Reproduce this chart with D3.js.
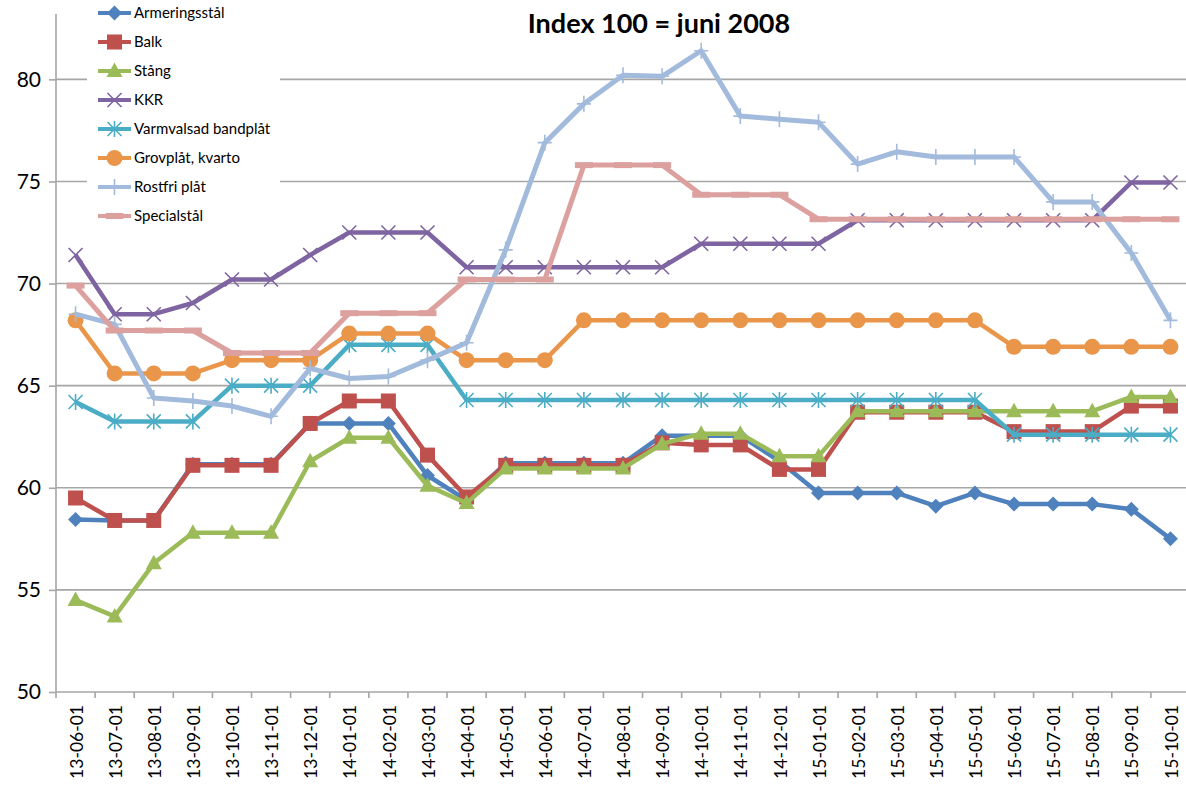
<!DOCTYPE html>
<html>
<head>
<meta charset="utf-8">
<script src="https://cdn.jsdelivr.net/npm/d3@7"></script>
<style>
  body { margin: 0; background: #fff; }
  #chart { width: 1186px; height: 803px; }
</style>
</head>
<body>
<div id="chart"></div>
<script>
// 日期类别
const dates = ["13-06-01","13-07-01","13-08-01","13-09-01","13-10-01","13-11-01","13-12-01",
  "14-01-01","14-02-01","14-03-01","14-04-01","14-05-01","14-06-01","14-07-01","14-08-01",
  "14-09-01","14-10-01","14-11-01","14-12-01","15-01-01","15-02-01","15-03-01","15-04-01",
  "15-05-01","15-06-01","15-07-01","15-08-01","15-09-01","15-10-01"];

// 各系列数值
const armering = [58.45,58.4,58.4,61.15,61.15,61.15,63.15,63.15,63.15,60.6,59.4,61.2,61.2,61.2,61.2,
  62.55,62.55,62.55,61.3,59.75,59.75,59.75,59.1,59.75,59.2,59.2,59.2,58.95,57.5];
const balk = [59.5,58.4,58.4,61.1,61.1,61.1,63.15,64.25,64.25,61.6,59.55,61.1,61.1,61.1,61.1,
  62.2,62.1,62.1,60.9,60.9,63.7,63.7,63.7,63.7,62.75,62.75,62.75,64.0,64.0];
const stang = [54.5,53.7,56.3,57.8,57.8,57.8,61.3,62.45,62.45,60.1,59.25,60.95,60.95,60.95,60.95,
  62.15,62.65,62.65,61.55,61.55,63.75,63.75,63.75,63.75,63.75,63.75,63.75,64.45,64.45];
const kkr = [71.4,68.5,68.5,69.05,70.2,70.2,71.4,72.5,72.5,72.5,70.8,70.8,70.8,70.8,70.8,
  70.8,71.95,71.95,71.95,71.95,73.1,73.1,73.1,73.1,73.1,73.1,73.1,74.95,74.95];
const varmvalsad = [64.2,63.25,63.25,63.25,65.0,65.0,65.0,67.0,67.0,67.0,64.3,64.3,64.3,64.3,64.3,
  64.3,64.3,64.3,64.3,64.3,64.3,64.3,64.3,64.3,62.6,62.6,62.6,62.6,62.6];
const grovplat = [68.2,65.6,65.6,65.6,66.25,66.25,66.25,67.55,67.55,67.55,66.25,66.25,66.25,68.2,68.2,
  68.2,68.2,68.2,68.2,68.2,68.2,68.2,68.2,68.2,66.9,66.9,66.9,66.9,66.9];
const rostfri = [68.5,68.0,64.4,64.25,64.0,63.5,65.85,65.35,65.45,66.25,67.1,71.65,76.9,78.8,80.2,
  80.15,81.4,78.2,78.05,77.9,75.85,76.45,76.2,76.2,76.2,74.0,74.0,71.5,68.2];
const special = [69.9,67.7,67.7,67.7,66.6,66.6,66.6,68.55,68.55,68.55,70.2,70.2,70.2,75.8,75.8,
  75.8,74.35,74.35,74.35,73.15,73.15,73.15,73.15,73.15,73.15,73.15,73.15,73.15,73.15];

// Y轴刻度
const yTicks = [50, 55, 60, 65, 70, 75, 80];

// 系列定义
const series = [
  {name: "Armeringsstål", values: armering, color: "#4F81BD", marker: "diamond"},
  {name: "Balk", values: balk, color: "#BE504D", marker: "square"},
  {name: "Stång", values: stang, color: "#9BBB59", marker: "triangle"},
  {name: "KKR", values: kkr, color: "#7F64A2", marker: "x"},
  {name: "Varmvalsad bandplåt", values: varmvalsad, color: "#4BACC6", marker: "star"},
  {name: "Grovplåt, kvarto", values: grovplat, color: "#E9964A", marker: "circle"},
  {name: "Rostfri plåt", values: rostfri, color: "#A2BADC", marker: "plus"},
  {name: "Specialstål", values: special, color: "#DCA19E", marker: "dash"}
];

// 画标记
function drawMarker(g, type, color, cx, cy) {
  const m = g.append("g").attr("transform", `translate(${cx},${cy})`);
  if (type === "diamond") {
    m.append("path").attr("d", "M0,-7.5L7.5,0L0,7.5L-7.5,0Z").attr("fill", color);
  } else if (type === "square") {
    m.append("rect").attr("x", -7.5).attr("y", -7.5).attr("width", 15).attr("height", 15).attr("fill", color);
  } else if (type === "triangle") {
    m.append("path").attr("d", "M0,-8.5L8,6L-8,6Z").attr("fill", color);
  } else if (type === "circle") {
    m.append("circle").attr("r", 8).attr("fill", color);
  } else if (type === "x") {
    m.append("path").attr("d", "M-7,-7L7,7M-7,7L7,-7")
      .attr("stroke", color).attr("stroke-width", 1.6).attr("fill", "none");
  } else if (type === "star") {
    m.append("path").attr("d", "M-7,-7L7,7M-7,7L7,-7M0,-8L0,8")
      .attr("stroke", color).attr("stroke-width", 1.6).attr("fill", "none");
  } else if (type === "plus") {
    m.append("path").attr("d", "M-7,0L7,0M0,-8L0,8")
      .attr("stroke", color).attr("stroke-width", 1.6).attr("fill", "none");
  } else if (type === "dash") {
    m.append("rect").attr("x", -9).attr("y", -3).attr("width", 18).attr("height", 6).attr("fill", color);
  }
}

function createChart(container) {
  d3.select(container).html("");

  const width = 1186, height = 803;
  const plot = {left: 56, right: 1190, top: 14, bottom: 692};

  const svg = d3.select(container)
    .append("svg")
    .attr("width", width)
    .attr("height", height)
    .style("font-family", "Lato, 'Open Sans', sans-serif");

  // 比例尺
  const x = d3.scaleBand()
    .domain(dates)
    .range([plot.left, plot.right])
    .padding(0);
  const y = d3.scaleLinear()
    .domain([50, 83.2])
    .range([plot.bottom, plot.top]);
  const cx = d => x(d) + x.bandwidth() / 2;

  // 网格线和Y轴
  const yAxis = svg.append("g")
    .attr("transform", `translate(${plot.left},0)`)
    .call(d3.axisLeft(y).tickValues(yTicks).tickSize(7).tickPadding(8).tickFormat(d3.format("d")));
  yAxis.select(".domain").remove();
  yAxis.selectAll(".tick line").attr("stroke", "#A6A6A6").attr("stroke-width", 1.6);
  yAxis.selectAll(".tick text").attr("font-size", "21px").attr("fill", "#000")
    .attr("font-family", "Lato, sans-serif");

  svg.append("g").selectAll("line")
    .data(yTicks.filter(t => t > 50))
    .enter().append("line")
    .attr("x1", plot.left).attr("x2", width)
    .attr("y1", d => y(d)).attr("y2", d => y(d))
    .attr("stroke", "#A6A6A6").attr("stroke-width", 1.6);

  // X轴
  const xAxis = svg.append("g")
    .attr("transform", `translate(0,${plot.bottom})`)
    .call(d3.axisBottom(x).tickSize(0).tickPadding(0));
  xAxis.select(".domain").remove();
  xAxis.selectAll(".tick text")
    .attr("transform", "rotate(-90)")
    .attr("x", -13).attr("y", 1).attr("dy", "0.35em")
    .style("text-anchor", "end")
    .attr("font-size", "17.5px").attr("fill", "#000")
    .attr("font-family", "Lato, sans-serif");

  // X轴刻度（类别边界）
  svg.append("g").selectAll("line")
    .data(dates)
    .enter().append("line")
    .attr("x1", d => x(d) + x.bandwidth()).attr("x2", d => x(d) + x.bandwidth())
    .attr("y1", plot.bottom).attr("y2", plot.bottom + 6)
    .attr("stroke", "#A6A6A6").attr("stroke-width", 1.6);

  svg.append("line")
    .attr("x1", plot.left).attr("x2", width)
    .attr("y1", plot.bottom).attr("y2", plot.bottom)
    .attr("stroke", "#A6A6A6").attr("stroke-width", 1.6);
  svg.append("line")
    .attr("x1", plot.left).attr("x2", plot.left)
    .attr("y1", plot.top).attr("y2", plot.bottom + 6)
    .attr("stroke", "#A6A6A6").attr("stroke-width", 1.6);

  // 折线生成器
  const line = d3.line()
    .x((d, i) => cx(dates[i]))
    .y(d => y(d));

  // 各系列
  series.forEach(s => {
    const g = svg.append("g");
    g.append("path")
      .datum(s.values)
      .attr("fill", "none")
      .attr("stroke", s.color)
      .attr("stroke-width", s.marker === "plus" || s.marker === "dash" ? 5 : 4.5)
      .attr("stroke-linejoin", "round")
      .attr("d", line);
    s.values.forEach((v, i) => drawMarker(g, s.marker, s.color, cx(dates[i]), y(v)));
  });

  // 图例
  const legend = svg.append("g");
  legend.append("rect")
    .attr("x", 87).attr("y", 0).attr("width", 193).attr("height", 230)
    .attr("fill", "#fff");
  series.forEach((s, i) => {
    const ly = 13 + i * 29;
    legend.append("line")
      .attr("x1", 98).attr("x2", 131).attr("y1", ly).attr("y2", ly)
      .attr("stroke", s.color).attr("stroke-width", 4);
    drawMarker(legend, s.marker, s.color, 114.5, ly);
    legend.append("text")
      .attr("x", 134).attr("y", ly).attr("dy", "0.35em")
      .attr("font-size", "15px").attr("fill", "#000")
      .text(s.name);
  });

  // 标题
  svg.append("text")
    .attr("x", 659).attr("y", 33)
    .attr("text-anchor", "middle")
    .attr("font-size", "27px")
    .attr("font-weight", "bold")
    .attr("fill", "#000")
    .text("Index 100 = juni 2008");
}

createChart("#chart");
</script>
</body>
</html>
